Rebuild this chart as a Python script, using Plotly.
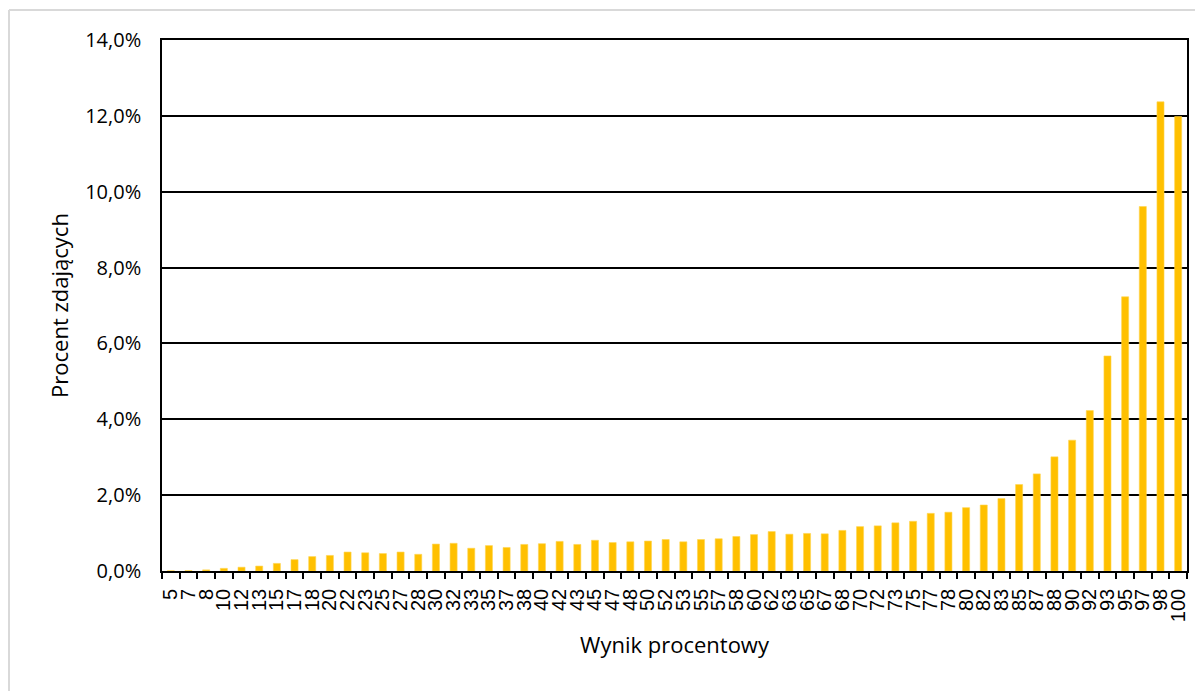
import plotly.graph_objects as go

categories = ["5", "7", "8", "10", "12", "13", "15", "17", "18", "20",
              "22", "23", "25", "27", "28", "30", "32", "33", "35", "37",
              "38", "40", "42", "43", "45", "47", "48", "50", "52", "53",
              "55", "57", "58", "60", "62", "63", "65", "67", "68", "70",
              "72", "73", "75", "77", "78", "80", "82", "83", "85", "87",
              "88", "90", "92", "93", "95", "97", "98", "100"]

percent_values = [0.005, 0.01, 0.03, 0.07, 0.10, 0.13, 0.20, 0.30, 0.38, 0.41,
                  0.50, 0.48, 0.46, 0.50, 0.44, 0.71, 0.73, 0.60, 0.67, 0.62,
                  0.70, 0.72, 0.78, 0.70, 0.81, 0.75, 0.77, 0.79, 0.83, 0.77,
                  0.83, 0.85, 0.91, 0.96, 1.04, 0.97, 0.99, 0.98, 1.07, 1.17,
                  1.19, 1.27, 1.31, 1.52, 1.55, 1.67, 1.74, 1.91, 2.28, 2.56,
                  3.01, 3.45, 4.23, 5.67, 7.23, 9.61, 12.37, 11.98]

y_values = [v / 100 for v in percent_values]

# page body adds an 8px offset; compensate in figure size and margins
W, H = 1195, 683
L, R, T, B = 154, 16, 32, 120
pw, ph = W - L - R, H - T - B

fig = go.Figure(go.Bar(
    x=categories,
    y=y_values,
    marker=dict(color="#FFC000", line=dict(color="#FFD54F", width=0.6)),
    hoverinfo="x+y",
))

axis_font = "Liberation Sans, Arial, sans-serif"
title_font = "Open Sans, Lato, sans-serif"

fig.update_layout(
    width=W, height=H,
    margin=dict(l=L, r=R, t=T, b=B, autoexpand=False),
    paper_bgcolor="white",
    plot_bgcolor="white",
    separators=",.",
    bargap=0.6,
    showlegend=False,
    xaxis=dict(
        type="category",
        tickmode="array",
        tickvals=categories,
        ticktext=categories,
        tickangle=-90,
        tickson="boundaries",
        ticks="outside",
        ticklen=6,
        tickwidth=1.5,
        tickcolor="black",
        ticklabelstandoff=8,
        tickfont=dict(family=axis_font, size=20, color="black"),
        showline=True, linecolor="black", linewidth=1.6, mirror=True,
        showgrid=False,
        automargin=False,
        title=dict(text="Wynik procentowy",
                   font=dict(family=title_font, size=22, color="black"),
                   standoff=16),
    ),
    yaxis=dict(
        range=[0, 0.14],
        tickmode="linear", tick0=0, dtick=0.02,
        tickformat=".1%",
        ticks="",
        ticklabelstandoff=15,
        tickfont=dict(family=title_font, size=20, color="black"),
        showgrid=True, gridcolor="black", gridwidth=1.8,
        showline=True, linecolor="black", linewidth=1.6, mirror=True,
        zeroline=False,
        automargin=False,
        title=dict(text="Procent zdających",
                   font=dict(family=title_font, size=22, color="black"),
                   standoff=10),
    ),
)

# light gray outer chart-area border (top and left edges visible)
x_left = (1 - L) / pw
y_top = (H - B - 2) / ph
x_right = (W - L + 5) / pw
y_bottom = -(B + 5) / ph
fig.add_shape(type="line", xref="paper", yref="paper",
              x0=x_left, x1=x_right, y0=y_top, y1=y_top,
              line=dict(color="#D9D9D9", width=2))
fig.add_shape(type="line", xref="paper", yref="paper",
              x0=x_left, x1=x_left, y0=y_top, y1=y_bottom,
              line=dict(color="#D9D9D9", width=2))

fig.write_html("out.html")
